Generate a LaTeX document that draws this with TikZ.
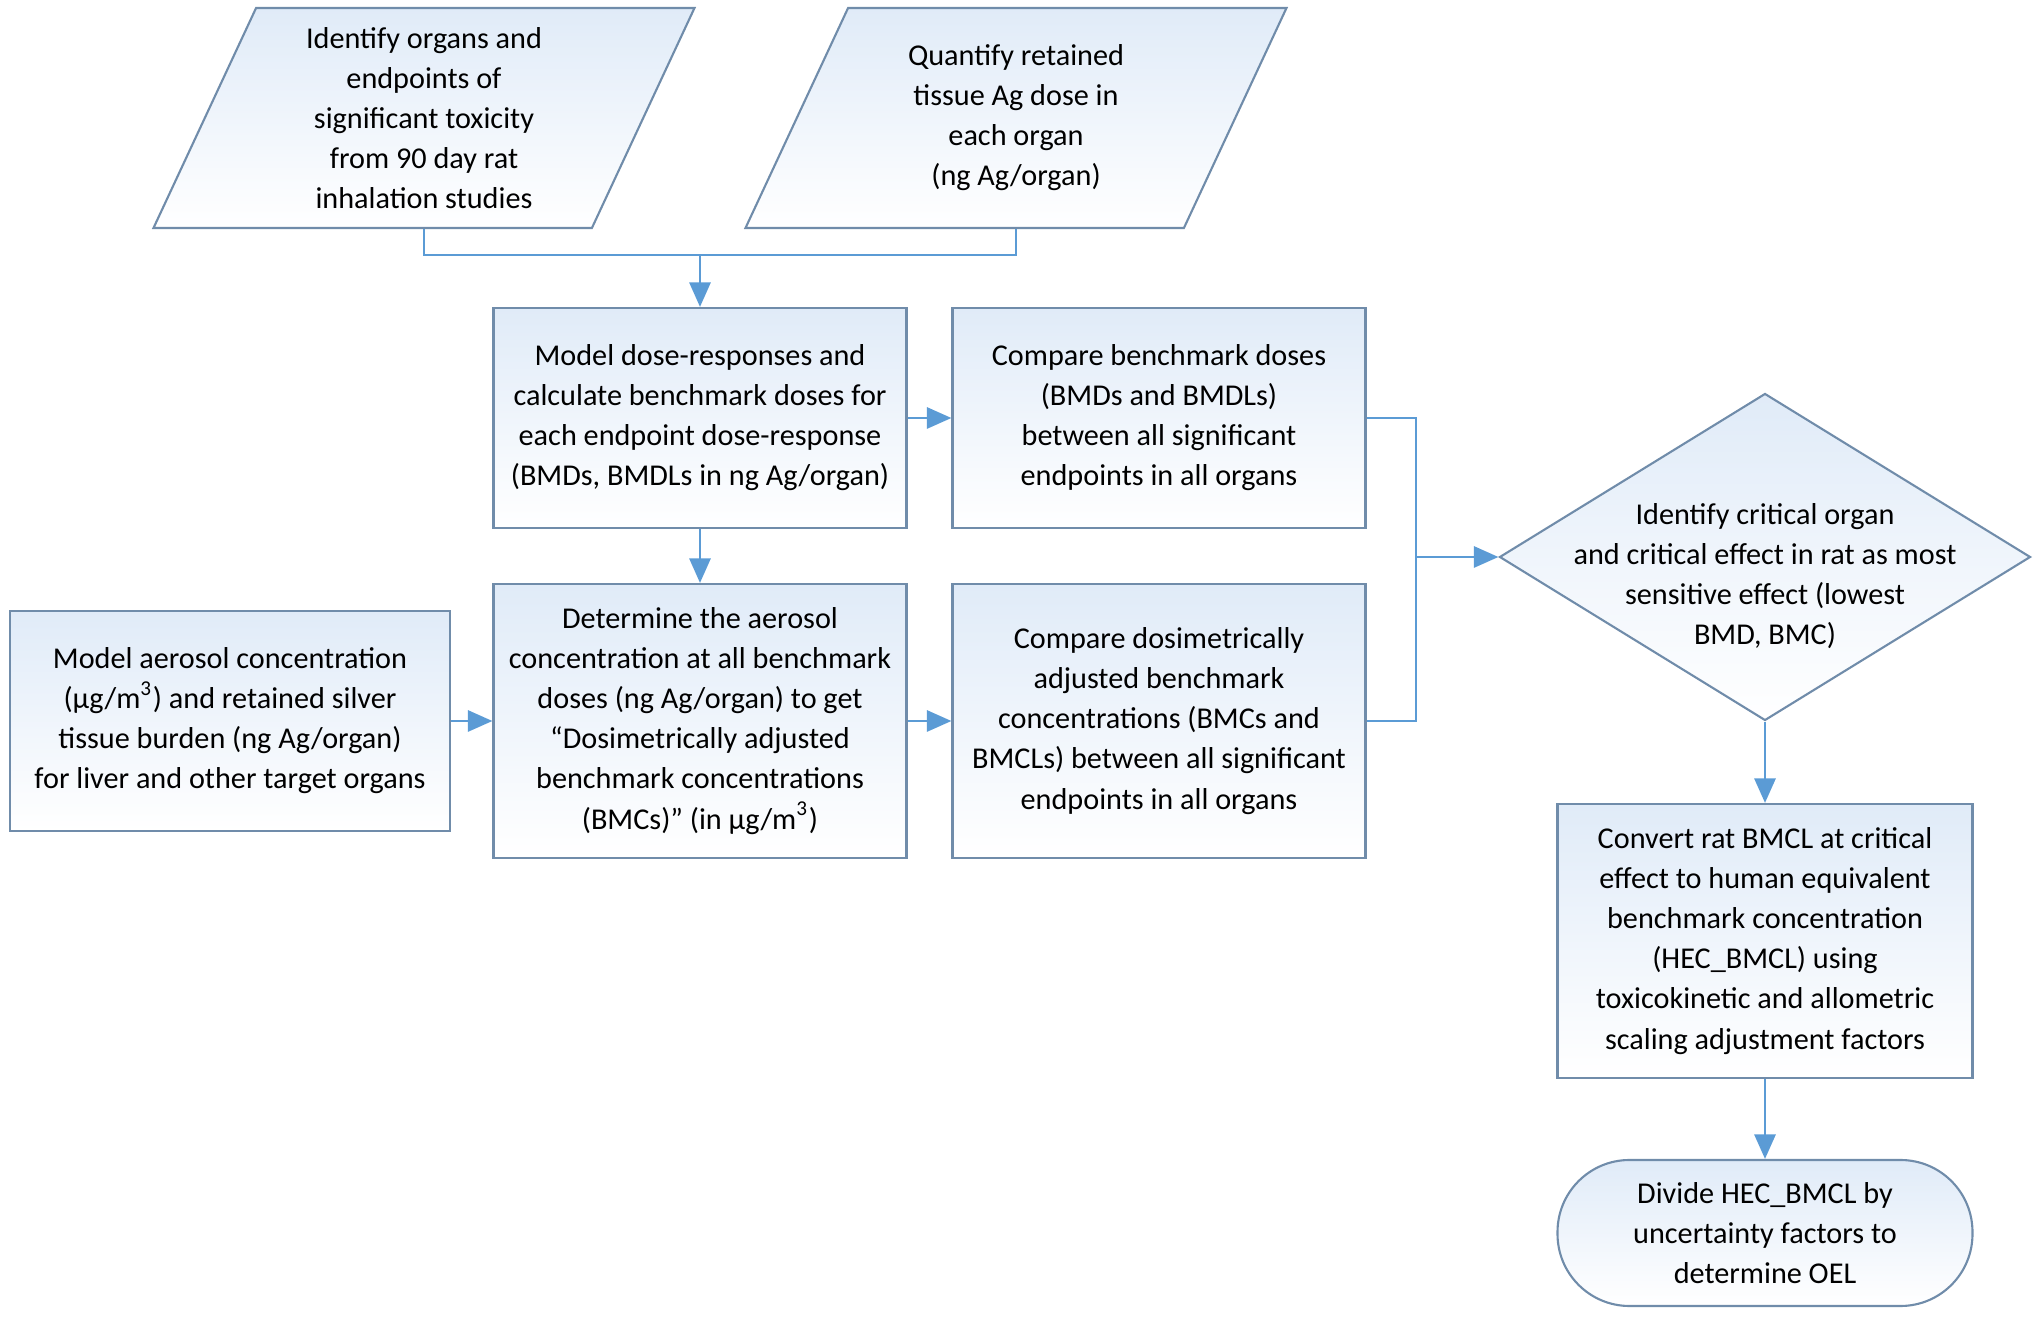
\documentclass[tikz,border=0pt]{standalone}
\usepackage{fontspec}
\setmainfont{Carlito}
\usepackage{tikz}
\usetikzlibrary{shapes.geometric, arrows.meta, positioning, calc}
\definecolor{myblue}{RGB}{91,155,213}
\definecolor{myedge}{RGB}{112,140,170}
\definecolor{hdrblue}{RGB}{224,235,248}
\newcommand{\flowfont}{\fontsize{8.6}{11.4}\selectfont}
% fixed text box for the input parallelograms, so both get the same slant
\newcommand{\iotext}[1]{\parbox[c][2.2cm][c]{3.2cm}{\centering #1}}
% text of the decision, sitting a little below the centre
\newcommand{\dectext}[1]{\raisebox{-0.27cm}[0pt][0pt]{\parbox[c]{4.3cm}{\centering #1}}}
\tikzset{
  block/.style={rectangle, draw=myedge, top color=hdrblue, bottom color=white,
    align=center, font=\flowfont, line width=0.6pt, inner sep=1pt},
  iobox/.style={trapezium, trapezium left angle=65, trapezium right angle=115,
    trapezium stretches body=true, draw=myedge, top color=hdrblue, bottom color=white,
    font=\flowfont, line width=0.6pt, inner sep=0pt,
    minimum width=5.41cm, minimum height=2.2cm},
  decision/.style={diamond, draw=myedge, top color=hdrblue, bottom color=white,
    font=\flowfont, line width=0.6pt, inner sep=0pt, shape aspect=1.62,
    minimum width=5.31cm, minimum height=3.27cm},
  terminal/.style={rectangle, rounded corners=0.72cm, draw=myedge, top color=hdrblue,
    bottom color=white, align=center, font=\flowfont, line width=0.6pt},
  arrow/.style={-{Triangle[length=7pt, width=6pt]}, line width=0.8pt, color=myblue},
  line/.style={line width=0.8pt, color=myblue}
}
\begin{document}
\begin{tikzpicture}
  \useasboundingbox (0,0) rectangle (20.40,-13.17);

  % Inputs
  \node[iobox] (ident) at (4.24, -1.18) {\iotext{Identify organs and\\endpoints of\\significant toxicity\\from 90 day rat\\inhalation studies}};
  \node[iobox] (quant) at (10.16, -1.18) {\iotext{Quantify retained\\tissue Ag dose in\\each organ\\(ng Ag/organ)}};

  % Benchmark doses
  \node[block, minimum width=4.13cm, minimum height=2.2cm] (model) at (7.00, -4.18) {Model dose-responses and\\calculate benchmark doses for\\each endpoint dose-response\\(BMDs, BMDLs in ng Ag/organ)};
  \node[block, minimum width=4.13cm, minimum height=2.2cm] (cmpd) at (11.59, -4.18) {Compare benchmark doses\\(BMDs and BMDLs)\\between all significant\\endpoints in all organs};

  % Benchmark concentrations
  \node[block, minimum width=4.40cm, minimum height=2.2cm] (aer) at (2.30, -7.21) {Model aerosol concentration\\(µg/m\textsuperscript{3}) and retained silver\\tissue burden (ng Ag/organ)\\for liver and other target organs};
  \node[block, minimum width=4.13cm, minimum height=2.74cm] (det) at (7.00, -7.21) {Determine the aerosol\\concentration at all benchmark\\doses (ng Ag/organ) to get\\“Dosimetrically adjusted\\benchmark concentrations\\(BMCs)” (in µg/m\textsuperscript{3})};
  \node[block, minimum width=4.13cm, minimum height=2.74cm] (cmpc) at (11.59, -7.21) {Compare dosimetrically\\adjusted benchmark\\concentrations (BMCs and\\BMCLs) between all significant\\endpoints in all organs};

  % Critical effect and OEL
  \node[decision] (crit) at (17.65, -5.57) {\dectext{Identify critical organ\\and critical effect in rat as most\\sensitive effect (lowest\\BMD, BMC)}};
  \node[block, minimum width=4.15cm, minimum height=2.74cm] (conv) at (17.65, -9.41) {Convert rat BMCL at critical\\effect to human equivalent\\benchmark concentration\\(HEC\_BMCL) using\\toxicokinetic and allometric\\scaling adjustment factors};
  \node[terminal, minimum width=4.15cm, minimum height=1.46cm] (divide) at (17.65, -12.33) {Divide HEC\_BMCL by\\uncertainty factors to\\determine OEL};

  % Connections
  \coordinate (topjoin) at (7.00, -2.55);
  \coordinate (rjoin) at (14.16, -5.57);
  \draw[line] (ident.south) |- (topjoin) -| (quant.south);
  \draw[arrow] (topjoin) -- (model.north);
  \draw[arrow] (model) -- (cmpd);
  \draw[arrow] (model) -- (det);
  \draw[arrow] (aer) -- (det);
  \draw[arrow] (det) -- (cmpc);
  \draw[line] (cmpd.east) -| (rjoin) |- (cmpc.east);
  \draw[arrow] (rjoin) -- (crit.west);
  \draw[arrow] (crit) -- (conv);
  \draw[arrow] (conv) -- (divide);
\end{tikzpicture}
\end{document}
